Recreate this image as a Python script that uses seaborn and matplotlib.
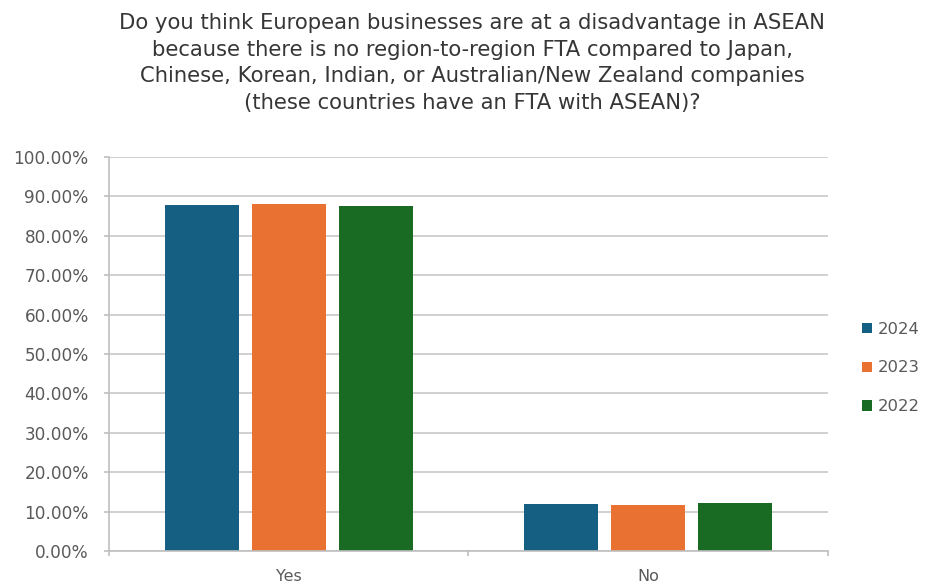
import matplotlib
matplotlib.use("Agg")
import matplotlib.pyplot as plt
import seaborn as sns
import pandas as pd
from matplotlib.ticker import FuncFormatter, FixedLocator
from matplotlib.patches import Patch

# Survey answers by year (share of respondents)
answers = ["Yes", "No"]
years = ["2024", "2023", "2022"]
share_2024 = [0.878, 0.120]
share_2023 = [0.881, 0.117]
share_2022 = [0.876, 0.121]
colors = ["#156082", "#E97132", "#196B24"]

title = ("Do you think European businesses are at a disadvantage in ASEAN\n"
         "because there is no region-to-region FTA compared to Japan,\n"
         "Chinese, Korean, Indian, or Australian/New Zealand companies\n"
         "(these countries have an FTA with ASEAN)?")

rows = []
for year, vals in zip(years, [share_2024, share_2023, share_2022]):
    for ans, v in zip(answers, vals):
        rows.append({"answer": ans, "year": year, "share": v})
df = pd.DataFrame(rows)

sns.set_theme(style="white")
plt.rcParams["font.family"] = ["DejaVu Sans"]

fig = plt.figure(figsize=(9.29, 5.88), dpi=100)
ax = fig.add_axes([109 / 929, 1 - 551 / 588, (828 - 109) / 929, (551 - 157) / 588])

sns.barplot(data=df, x="answer", y="share", hue="year", order=answers,
            hue_order=years, palette=colors, width=0.727, gap=0.15,
            saturation=1, ax=ax, legend=False, edgecolor="none")

ax.set_ylim(0, 1.0)
ax.set_xlim(-0.5, 1.5)
ax.yaxis.set_major_locator(FixedLocator([i / 10 for i in range(11)]))
ax.yaxis.set_major_formatter(FuncFormatter(lambda v, _: f"{v * 100:.2f}%"))
ax.grid(axis="y", color="#d0d0d0", linewidth=1.4)
ax.set_axisbelow(True)

for side in ["top", "right"]:
    ax.spines[side].set_visible(False)
for side in ["left", "bottom"]:
    ax.spines[side].set_color("#bfbfbf")
    ax.spines[side].set_linewidth(1.2)

ax.tick_params(axis="y", which="major", length=3.6, width=1.2, color="#bfbfbf",
               labelsize=12.2, labelcolor="#595959", pad=11, left=True)
ax.tick_params(axis="x", which="major", length=0, labelsize=11.5,
               labelcolor="#595959", pad=13)
ax.set_xticks([-0.5, 0.5, 1.5], minor=True)
ax.tick_params(axis="x", which="minor", length=3.6, width=1.2, color="#bfbfbf",
               bottom=True)
ax.set_xlabel("")
ax.set_ylabel("")

fig.text(472 / 929, 1 - 13 / 588, title, ha="center", va="top",
         fontsize=15.2, color="#363636", linespacing=1.42)

handles = [Patch(facecolor=c, edgecolor="none", label=y) for c, y in zip(colors, years)]
fig.legend(handles=handles, loc="center left", bbox_to_anchor=(847 / 929, 1 - 368 / 588),
           frameon=False, fontsize=11.8, labelcolor="#595959", handlelength=0.6,
           handleheight=0.6, handletextpad=0.35, labelspacing=1.45)

fig.savefig("out.png", dpi=100)
